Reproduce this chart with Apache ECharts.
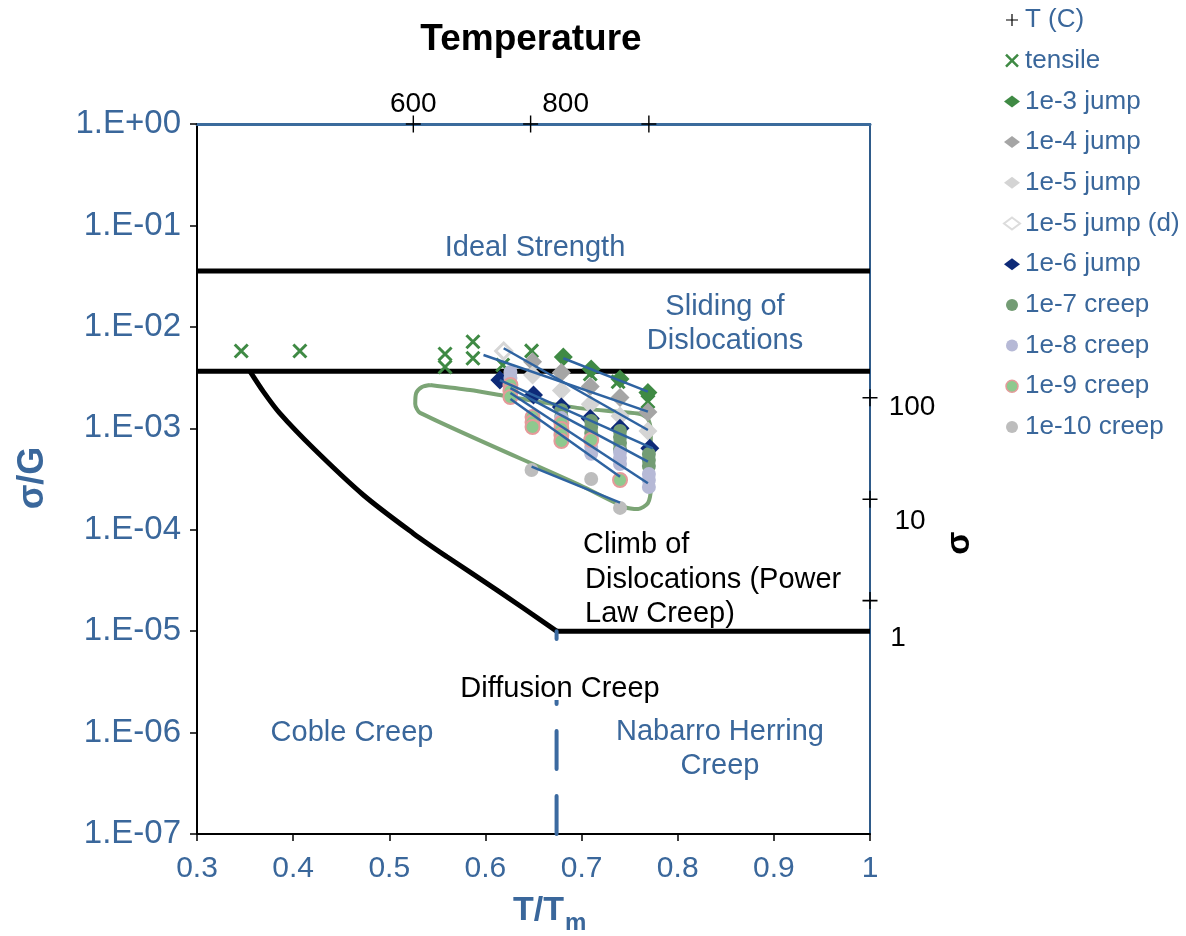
<!DOCTYPE html>
<html>
<head>
<meta charset="utf-8">
<script src="https://cdn.jsdelivr.net/npm/echarts@6/dist/echarts.min.js"></script>
<style>
  html, body { margin: 0; padding: 0; background: #fff; }
  #chart { width: 1186px; height: 936px; }
</style>
</head>
<body>
<div id="chart"></div>
<script>
// Deformation mechanism map: normalised stress (sigma/G) against homologous temperature (T/Tm)

// secondary scales: temperature in deg C along the top, stress in MPa down the right side
const tempTicks = [0.525, 0.647, 0.770];
const tempLabels = ['600', '800', ''];
const stressTicks = [2e-3, 2e-4, 2e-5];
const stressLabels = ['100', '10', '1'];

// measured points [T/Tm, sigma/G]
const tensile = [[0.346, 5.78e-3], [0.407, 5.78e-3], [0.558, 5.40e-3], [0.558, 4.02e-3], [0.587, 7.14e-3],
  [0.587, 4.90e-3], [0.618, 4.21e-3], [0.648, 5.80e-3], [0.709, 3.43e-3], [0.738, 2.88e-3], [0.769, 1.83e-3]];
const jump1e3 = [[0.681, 5.05e-3], [0.710, 3.84e-3], [0.740, 3.06e-3], [0.769, 2.25e-3]];
const jump1e4 = [[0.649, 4.54e-3], [0.679, 3.55e-3], [0.709, 2.58e-3], [0.740, 2.01e-3], [0.769, 1.45e-3]];
const jump1e5 = [[0.649, 3.35e-3], [0.679, 2.36e-3], [0.709, 1.73e-3], [0.740, 1.32e-3], [0.769, 9.4e-4]];
const jump1e5d = [[0.619, 5.78e-3]];
const jump1e6 = [[0.615, 2.99e-3], [0.650, 2.13e-3], [0.679, 1.62e-3], [0.709, 1.25e-3], [0.740, 1.0e-3], [0.771, 6.35e-4]];
const creep1e7 = [[0.679, 1.51e-3], [0.679, 1.32e-3], [0.710, 1.18e-3], [0.710, 1.03e-3], [0.710, 8.99e-4],
  [0.740, 9.40e-4], [0.740, 8.20e-4], [0.740, 7.16e-4], [0.740, 6.25e-4], [0.770, 5.58e-4], [0.770, 4.87e-4], [0.770, 4.25e-4]];
const creep1e8 = [[0.626, 3.59e-3], [0.626, 3.13e-3], [0.679, 1.26e-3], [0.679, 1.10e-3], [0.710, 7.67e-4],
  [0.710, 6.54e-4], [0.710, 5.60e-4], [0.740, 5.84e-4], [0.740, 5.10e-4], [0.740, 4.45e-4], [0.770, 3.54e-4],
  [0.770, 3.09e-4], [0.770, 2.64e-4]];
const creep1e9 = [[0.626, 2.67e-3], [0.626, 2.33e-3], [0.626, 2.03e-3], [0.649, 1.29e-3], [0.649, 1.15e-3],
  [0.649, 1.03e-3], [0.679, 1.13e-3], [0.679, 9.85e-4], [0.679, 8.59e-4], [0.679, 7.49e-4], [0.710, 7.67e-4], [0.740, 3.09e-4]];
const creep1e10 = [[0.648, 3.88e-4], [0.710, 3.16e-4], [0.740, 1.64e-4]];

// power-law fits through each rate group
const fits = [
  [[0.681, 4.90e-3], [0.769, 2.30e-3]],
  [[0.598, 5.28e-3], [0.769, 1.46e-3]],
  [[0.619, 6.15e-3], [0.769, 9.62e-4]],
  [[0.615, 2.99e-3], [0.774, 6.35e-4]],
  [[0.626, 2.49e-3], [0.769, 4.69e-4]],
  [[0.626, 2.23e-3], [0.769, 2.87e-4]],
  [[0.626, 1.94e-3], [0.740, 3.33e-4]],
  [[0.648, 4.18e-4], [0.740, 1.85e-4]]
];

// mechanism field boundaries
const idealStrength = [[0.3, 0.0355], [1.0, 0.0355]];
const slidingLimit = [[0.3, 3.66e-3], [1.0, 3.66e-3]];
const climbBoundary = [[0.355, 3.66e-3], [0.369, 2.30e-3], [0.386, 1.41e-3], [0.421, 6.35e-4], [0.473, 2.20e-4],
  [0.525, 9.2e-5], [0.560, 5.41e-5], [0.612, 2.54e-5], [0.674, 1.0e-5]];
const diffusionLimit = [[0.674, 1e-5], [1.0, 1e-5]];
const cobleNabarro = [[0.674, 1e-7], [0.674, 1e-5]];
const dataEnvelope = [[0.5424, 2.67e-3], [0.584, 2.38e-3], [0.615, 2.13e-3], [0.657, 1.82e-3], [0.698, 1.58e-3],
  [0.740, 1.45e-3], [0.761, 1.38e-3], [0.769, 1.24e-3], [0.772, 9.6e-4], [0.772, 2.47e-4], [0.769, 1.83e-4],
  [0.759, 1.60e-4], [0.745, 1.67e-4], [0.698, 2.76e-4], [0.532, 1.42e-3], [0.527, 1.74e-3], [0.528, 2.23e-3],
  [0.534, 2.55e-3], [0.5424, 2.67e-3]];

const FONT = 'Liberation Sans, Arial, sans-serif';
const BLUE = '#3a679b';
const PLUS = 'path://M5,0L5,10M0,5L10,5';
const CROSS = 'path://M0,0L10,10M10,0L0,10';

const chart = echarts.init(document.getElementById('chart'), null, { renderer: 'canvas' });

function boundary(data, extra) {
  return Object.assign({
    type: 'line', data: data, symbol: 'none', silent: true, z: 3,
    lineStyle: { color: '#000', width: 5 }
  }, extra || {});
}

function points(name, data, symbol, size, style) {
  return {
    name: name, type: 'scatter', z: 5, data: data, symbol: symbol, symbolSize: size,
    itemStyle: Object.assign({ opacity: 1 }, style)
  };
}

const tPoints = tempTicks.map(x => [x, 1]).concat(stressTicks.map(y => [1, y]));
const tText = tempLabels.concat(stressLabels);
const tOffsets = [[0, -20], [35, -20], [0, 0], [42, 10], [40, 22], [28, 38]];

const markerSeries = [
  {
    name: 'T (C)', type: 'scatter', clip: false, z: 5,
    data: tPoints.map((p, i) => ({
      value: p,
      label: { show: tText[i] !== '', formatter: tText[i], position: 'inside', offset: tOffsets[i],
        color: '#000', fontSize: 28, fontFamily: FONT }
    })),
    symbol: PLUS, symbolSize: [15, 17],
    itemStyle: { opacity: 1, color: 'none', borderColor: '#000', borderWidth: 1.5 }
  },
  points('tensile', tensile, CROSS, 13, { color: 'none', borderColor: '#3f8a44', borderWidth: 3 }),
  points('1e-3 jump', jump1e3, 'diamond', 19, { color: '#3f8a44' }),
  points('1e-4 jump', jump1e4, 'diamond', 19, { color: '#a5a5a5' }),
  points('1e-5 jump', jump1e5, 'diamond', 19, { color: '#d4d4d4' }),
  points('1e-5 jump (d)', jump1e5d, 'diamond', 16, { color: '#fff', borderColor: '#d6d6d6', borderWidth: 3 }),
  points('1e-6 jump', jump1e6, 'diamond', 19, { color: '#0e2a78' }),
  points('1e-7 creep', creep1e7, 'circle', 14, { color: '#739c74' }),
  points('1e-8 creep', creep1e8, 'circle', 14, { color: '#b6b9d6' }),
  points('1e-9 creep', creep1e9, 'circle', 14, { color: '#8ec98e', borderColor: '#e59a9a', borderWidth: 2 }),
  points('1e-10 creep', creep1e10, 'circle', 14, { color: '#bdbdbd' })
];

const fitSeries = fits.map((d, i) => ({
  name: 'fit' + i, type: 'line', data: d, symbol: 'none', silent: true, z: 6,
  lineStyle: { color: '#2e63a1', width: 2.5 }
}));

const legendIcons = {
  'T (C)': { icon: PLUS, itemStyle: { color: 'none', borderColor: '#000', borderWidth: 1.2 } },
  'tensile': { icon: CROSS, itemStyle: { color: 'none', borderColor: '#3f8a44', borderWidth: 2.5 } },
  '1e-5 jump (d)': { icon: 'diamond', itemStyle: { color: '#fff', borderColor: '#dcdcdc', borderWidth: 2 } },
  '1e-9 creep': { icon: 'circle', itemStyle: { color: '#8ec98e', borderColor: '#e59a9a', borderWidth: 1.5 } }
};
const legendData = markerSeries.map(s => {
  const extra = legendIcons[s.name] || { icon: s.symbol, itemStyle: { borderWidth: 0 } };
  return Object.assign({ name: s.name }, extra);
});

function txt(x, y, text, opts) {
  opts = opts || {};
  return {
    type: 'text', x: x, y: y, rotation: opts.rotation || 0, z: 20,
    style: {
      text: text, fill: opts.color || BLUE, fontSize: opts.size || 29, fontFamily: FONT,
      fontWeight: opts.bold ? 'bold' : 'normal', align: opts.align || 'center', verticalAlign: 'middle'
    }
  };
}

const option = {
  animation: false,
  backgroundColor: '#fff',
  grid: { left: 197, top: 124, width: 673, height: 710, containLabel: false },
  legend: {
    orient: 'vertical', left: 998, top: 0, itemWidth: 16, itemHeight: 12, itemGap: 10.7,
    textStyle: { color: BLUE, fontSize: 26, fontFamily: FONT, lineHeight: 30 },
    data: legendData, selectedMode: false
  },
  xAxis: [
    {
      type: 'value', min: 0.3, max: 1, interval: 0.1, position: 'bottom',
      axisLine: { show: true, onZero: false, lineStyle: { color: '#000', width: 2 } },
      axisTick: { show: true, length: 7, lineStyle: { color: '#000', width: 1.5 } },
      axisLabel: {
        color: BLUE, fontSize: 30, fontFamily: FONT, margin: 20,
        formatter: v => String(Math.round(v * 10) / 10)
      },
      splitLine: { show: false }
    },
    {
      type: 'value', min: 0.3, max: 1, position: 'top',
      axisLine: { show: true, onZero: false, lineStyle: { color: '#3b6b9c', width: 3 } },
      axisTick: { show: false }, axisLabel: { show: false }, splitLine: { show: false }
    }
  ],
  yAxis: [
    {
      type: 'log', logBase: 10, min: 1e-7, max: 1, position: 'left',
      axisLine: { show: true, onZero: false, lineStyle: { color: '#000', width: 2 } },
      axisTick: { show: true, length: 7, lineStyle: { color: '#000', width: 1.5 } },
      minorTick: { show: false },
      axisLabel: {
        color: BLUE, fontSize: 33, fontFamily: FONT, margin: 16,
        formatter: v => {
          const e = Math.round(Math.log10(v));
          return '1.E' + (e >= 0 ? '+' : '-') + String(Math.abs(e)).padStart(2, '0');
        }
      },
      splitLine: { show: false }
    },
    {
      type: 'log', logBase: 10, min: 1e-7, max: 1, position: 'right',
      axisLine: { show: true, onZero: false, lineStyle: { color: '#2f5b8a', width: 2 } },
      axisTick: { show: false }, axisLabel: { show: false }, splitLine: { show: false }
    }
  ],
  graphic: [
    { type: 'rect', z: 19, shape: { x: 549, y: 641, width: 16, height: 59 }, style: { fill: '#fff' } },
    txt(531, 40, 'Temperature', { color: '#000', size: 37, bold: true }),
    txt(535, 248, 'Ideal Strength'),
    txt(725, 307, 'Sliding of'),
    txt(725, 341, 'Dislocations'),
    txt(583, 545, 'Climb of', { color: '#000', align: 'left' }),
    txt(585, 580, 'Dislocations (Power', { color: '#000', align: 'left' }),
    txt(585, 614, 'Law Creep)', { color: '#000', align: 'left' }),
    txt(560, 689, 'Diffusion Creep', { color: '#000' }),
    txt(352, 733, 'Coble Creep'),
    txt(720, 732, 'Nabarro Herring'),
    txt(720, 766, 'Creep'),
    txt(960, 543, 'σ', { color: '#000', size: 34, bold: true, rotation: Math.PI / 2 }),
    txt(33, 478, 'σ/G', { size: 36, bold: true, rotation: Math.PI / 2 }),
    txt(564, 911, 'T/T', { size: 34, bold: true, align: 'right' }),
    txt(565, 923, 'm', { size: 24, bold: true, align: 'left' })
  ],
  series: [
    boundary(idealStrength),
    boundary(slidingLimit),
    boundary(climbBoundary, { smooth: 0.3 }),
    boundary(diffusionLimit),
    {
      type: 'line', data: cobleNabarro, symbol: 'none', silent: true, z: 3,
      lineStyle: { color: '#3b6aa0', width: 4, type: [38, 27], cap: 'round' }
    },
    {
      type: 'line', data: dataEnvelope, symbol: 'none', silent: true, z: 4, smooth: 0.25,
      lineStyle: { color: '#7ba475', width: 4 }
    }
  ].concat(markerSeries, fitSeries)
};

chart.setOption(option);
</script>
</body>
</html>
